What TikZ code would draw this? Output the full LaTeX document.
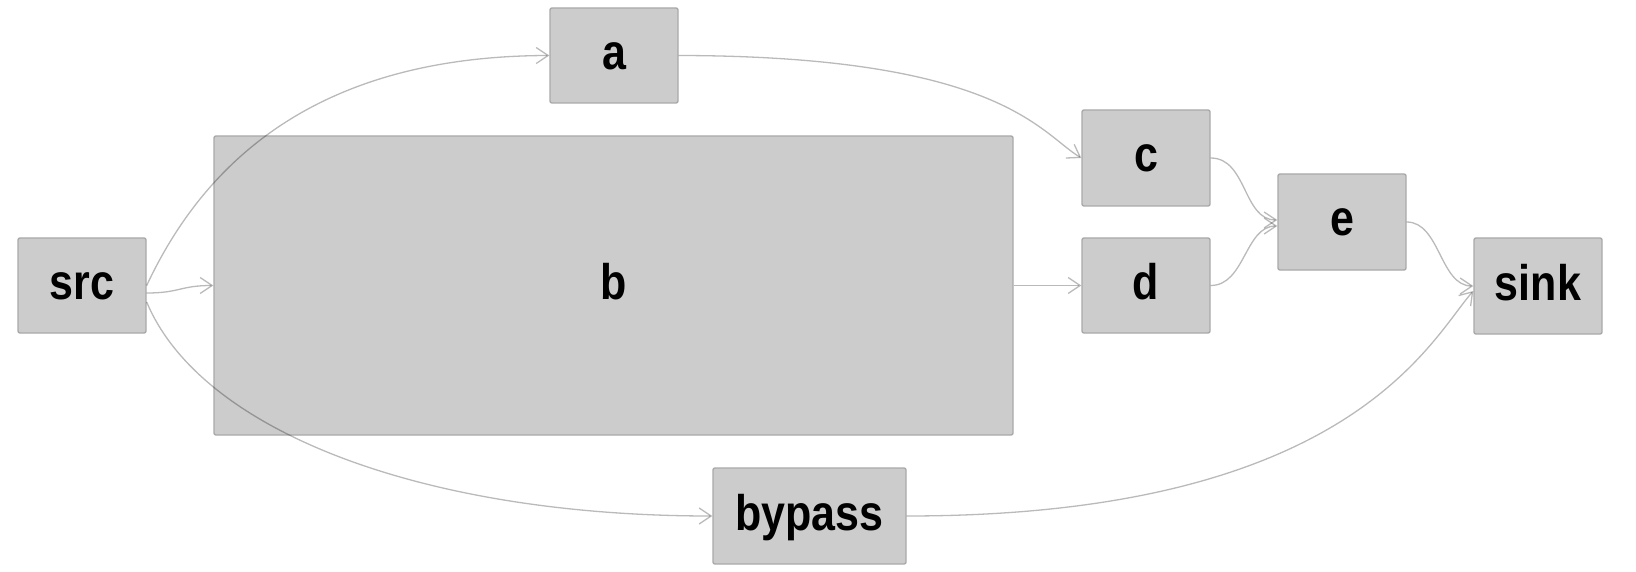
\documentclass[tikz,border=0pt]{standalone}
\usepackage{fontspec}
\newfontfamily\labfont{Liberation Sans}[FakeStretch=0.86]
\usetikzlibrary{arrows.meta}
\definecolor{boxfill}{HTML}{CCCCCC}
\definecolor{boxline}{HTML}{A9A9A9}
\tikzset{
  gbox/.style={draw=boxline, fill=boxfill, line width=1.4pt, rounded corners=2pt,
    inner sep=0pt, minimum width=128pt, minimum height=95pt,
    text height=28pt, text depth=0pt,
    font=\labfont\bfseries\fontsize{50}{60}\selectfont},
  conn/.style={draw=black, draw opacity=0.27, line width=1.3pt,
    -{Straight Barb[length=12pt,width=16pt]}}
}
\begin{document}
\begin{tikzpicture}[x=1pt,y=-1pt]
\useasboundingbox (0,0) rectangle (1636,572);
\node[gbox] (src) at (82,285.5) {src};
\node[gbox] (a) at (614,55.5) {a};
\node[gbox, minimum width=799pt, minimum height=299pt] (b) at (613.5,285.5) {b};
\node[gbox, minimum height=96pt] (c) at (1146,158) {c};
\node[gbox] (d) at (1146,285.5) {d};
\node[gbox, minimum height=96pt] (e) at (1342,222) {e};
\node[gbox, minimum height=96pt] (sink) at (1538,286) {sink};
\node[gbox, minimum width=193pt, minimum height=96pt] (bypass) at (809.5,516) {bypass};

\draw[conn] (src.east) .. controls (210,150) and (330,56) .. (a.west);
\draw[conn] ([yshift=-7.5pt]src.east) .. controls (180,293) and (180,285.5) .. (b.west);
\draw[conn] ([yshift=-16.5pt]src.east) .. controls (200,430) and (420,516) .. (bypass.west);
\draw[conn] (a.east) .. controls (1000,56) and (1040,133) .. (c.west);
\draw[conn] (b.east) -- (d.west);
\draw[conn] (c.east) .. controls (1247,158) and (1243,220) .. ([yshift=2pt]e.west);
\draw[conn] (d.east) .. controls (1245,285.5) and (1245,226) .. ([yshift=-4pt]e.west);
\draw[conn] (e.east) .. controls (1440,222) and (1440,286) .. (sink.west);
\draw[conn] (bypass.east) .. controls (1350,516) and (1430,340) .. ([yshift=-5pt]sink.west);
\end{tikzpicture}
\end{document}
